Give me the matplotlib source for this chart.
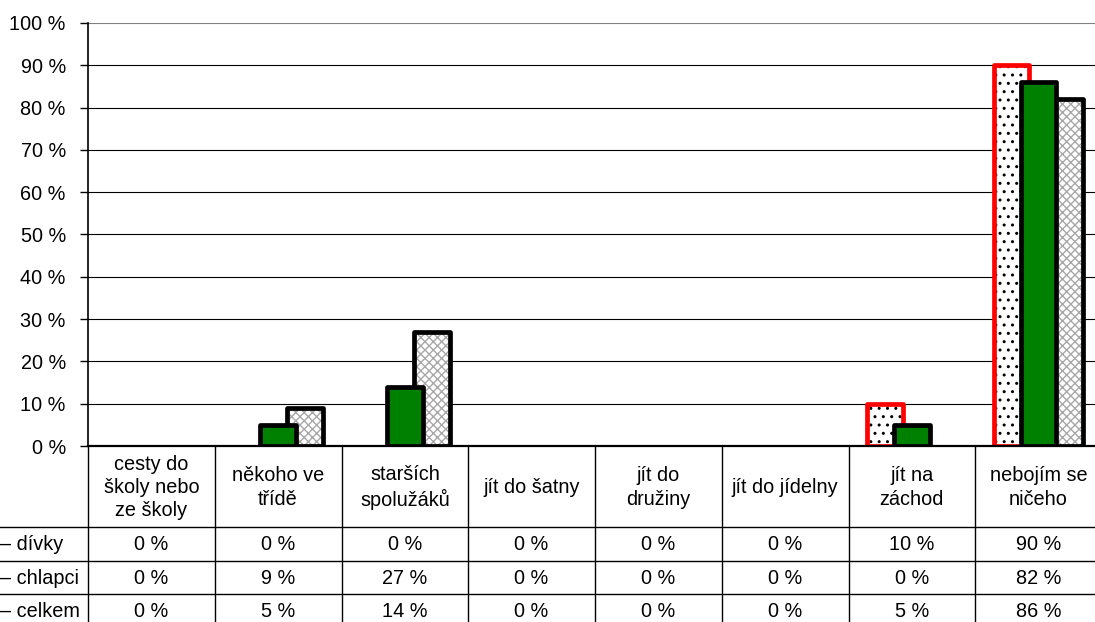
import numpy as np
import matplotlib
matplotlib.use("Agg")
import matplotlib.pyplot as plt
from matplotlib import transforms

plt.rcParams["font.family"] = ["Liberation Sans", "DejaVu Sans"]
plt.rcParams["hatch.linewidth"] = 1.0

# survey answers and percentages per group
categories = [
    "cesty do\nškoly nebo\nze školy",
    "někoho ve\ntřídě",
    "starších\nspolužáků",
    "jít do šatny",
    "jít do\ndružiny",
    "jít do jídelny",
    "jít na\nzáchod",
    "nebojím se\nničeho",
]
divky = [0, 0, 0, 0, 0, 0, 10, 90]
chlapci = [0, 9, 27, 0, 0, 0, 0, 82]
celkem = [0, 5, 14, 0, 0, 0, 5, 86]
row_labels = ["– dívky", "– chlapci", "– celkem"]
yticks = list(range(0, 101, 10))

FS = 14.3

W, H = 1095, 622
fig = plt.figure(figsize=(W / 100, H / 100), dpi=100)
ax = fig.add_axes([88 / W, (H - 446) / H, (1102 - 88) / W, (446 - 23) / H])

x = np.arange(len(categories)) + 0.5
bw = 0.28
off = 0.213


def outline_width(vals, lw):
    return [lw if v > 0 else 0 for v in vals]


# dívky: dotted fill with red border
ax.bar(x - off, divky, bw, facecolor="white", edgecolor="black", hatch="..",
       linewidth=0, zorder=3)
ax.bar(x - off, divky, bw, facecolor="none", edgecolor="#ff0000",
       linewidth=outline_width(divky, 3.4), joinstyle="round", zorder=3)

# chlapci: grey crosshatch
ax.bar(x + off, chlapci, bw, facecolor="white", edgecolor="#a8a8a8", hatch="xxxx",
       linewidth=0, zorder=4)
ax.bar(x + off, chlapci, bw, facecolor="none", edgecolor="black",
       linewidth=outline_width(chlapci, 3.4), joinstyle="round", zorder=4)

# celkem: solid green on top
ax.bar(x, celkem, bw, facecolor="#008000", edgecolor="black",
       linewidth=outline_width(celkem, 3.4), joinstyle="round", zorder=5)

ax.set_xlim(0, len(categories))
ax.set_ylim(0, 100)
ax.set_yticks(yticks)
ax.set_yticklabels([f"{t} %" for t in yticks], fontsize=FS)
ax.tick_params(axis="y", length=6, width=1, pad=10, color="black")
ax.set_xticks([])
ax.grid(axis="y", color="black", linewidth=0.8, zorder=0)
ax.get_ygridlines()[-1].set_color("#808080")
for side in ["top", "right"]:
    ax.spines[side].set_visible(False)
ax.spines["left"].set_linewidth(1.2)
ax.spines["bottom"].set_linewidth(1.6)
ax.spines["bottom"].set_zorder(6)

# data table underneath, drawn in pixel space
tab = fig.add_axes([0, 0, 1, 1])
tab.set_xlim(0, W)
tab.set_ylim(H, 0)
tab.axis("off")
tx = transforms.blended_transform_factory(ax.transData, tab.transData)

header_top, header_bottom = 446, 527
row_h = 33.5
rows_y = [header_bottom + i * row_h for i in range(4)]

for k in range(len(categories) + 1):
    tab.plot([k, k], [header_top, H + 5], color="black", lw=1, transform=tx,
             clip_on=False)
for yy in rows_y:
    tab.plot([0, W], [yy, yy], color="black", lw=1)

for i, cat in enumerate(categories):
    tab.text(x[i], (header_top + header_bottom) / 2 + 1, cat, transform=tx,
             ha="center", va="center", fontsize=FS, linespacing=1.27)

for r, (lab, vals) in enumerate(zip(row_labels, [divky, chlapci, celkem])):
    yc = rows_y[r] + row_h / 2 + 1
    tab.text(0, yc, lab, ha="left", va="center", fontsize=FS)
    for i, v in enumerate(vals):
        tab.text(x[i], yc, f"{v} %", transform=tx, ha="center", va="center",
                 fontsize=FS)

fig.savefig("out.png", dpi=100)
